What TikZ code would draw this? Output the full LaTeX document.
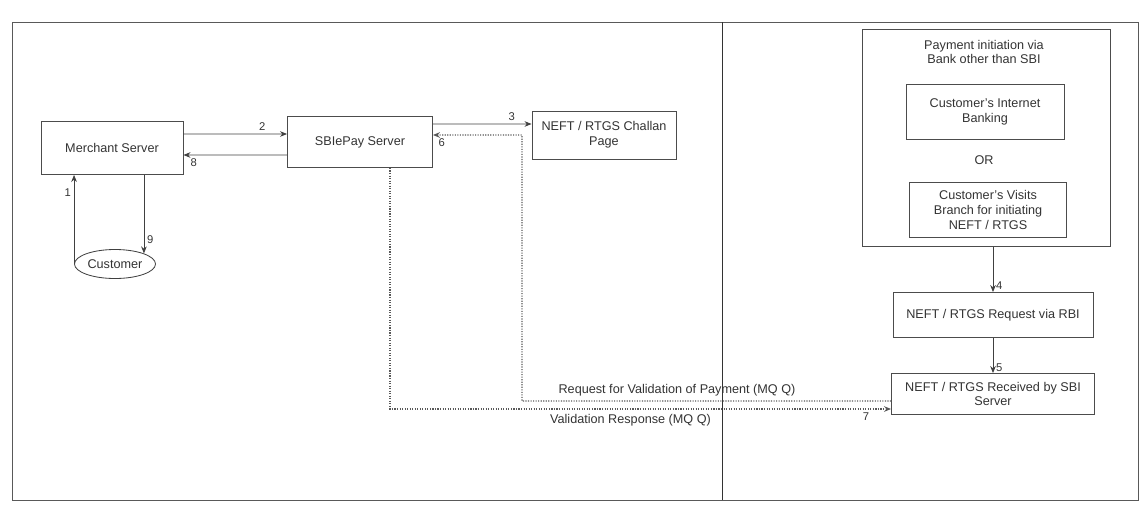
\documentclass[tikz,border=0pt]{standalone}
\usepackage{fontspec}
\setmainfont{Liberation Sans}
\usetikzlibrary{shapes.geometric, arrows.meta}

\begin{document}
\begin{tikzpicture}[x=0.025cm, y=-0.025cm, >={Stealth[length=5pt, width=4pt]}, line width=0.6pt,
    every node/.style={font=\fontsize{9}{10.5}\selectfont, text=black!80},
    box/.style={draw=black!70, align=center, inner sep=2pt},
    flow/.style={->, draw=black!75},
    mq/.style={->, draw=black!65, densely dotted, line width=0.8pt},
    num/.style={font=\fontsize{8}{9}\selectfont, inner sep=2pt}]

        \useasboundingbox (0,0) rectangle (1144,515);

        % Outer frame and divider
        \draw[black!65] (12,22) rectangle (1138,500);
        \draw[black!80] (722,22) -- (722,500);

        % Merchant Server
        \node (merchant) at (112,148) [box, minimum width=3.55cm, minimum height=1.325cm] {Merchant Server};

        % SBIePay Server
        \node (sbiepay) at (360,142) [box, minimum width=3.625cm, minimum height=1.275cm] {SBIePay Server};

        % NEFT / RTGS Challan Page
        \node (challan) at (604,135) [box, minimum width=3.6cm, minimum height=1.2cm] {NEFT / RTGS Challan\\Page};

        % Customer
        \node (customer) at (115,264) [draw=black!75, ellipse, inner sep=0pt, minimum width=2.025cm, minimum height=0.725cm] {Customer};

        % Payment initiation via other bank
        \node (group) at (986,138) [box, minimum width=6.2cm, minimum height=5.425cm] {};
        \node (title) at (984,52) [align=center] {Payment initiation via\\Bank other than SBI};
        \node (internet) at (985,112) [box, minimum width=3.95cm, minimum height=1.375cm] {Customer's Internet\\Banking};
        \node (orlabel) at (984,160) {OR};
        \node (visits) at (988,210) [box, minimum width=3.925cm, minimum height=1.375cm] {Customer's Visits\\Branch for initiating\\NEFT / RTGS};

        % NEFT / RTGS Request via RBI
        \node (rbi) at (993,315) [box, minimum width=5.0cm, minimum height=1.125cm] {NEFT / RTGS Request via RBI};

        % NEFT / RTGS Received by SBI Server
        \node (received) at (993,394) [box, minimum width=5.075cm, minimum height=1.025cm] {NEFT / RTGS Received by SBI\\Server};

        \coordinate (turn) at (522,135);

        % ========================================================
        % Connectors with step numbers
        % ========================================================

        % Customer -> Merchant (1), Merchant -> Customer (9)
        \draw[flow] (customer.west) -- node[pos=0.8, left, num] {1} (customer.west |- merchant.south);
        \draw[flow] (merchant.south -| customer.north east) -- node[pos=0.83, right, num] {9} (customer.north east);

        % Merchant <-> SBIePay (2, 8)
        \draw[flow] ([yshift=0.35cm]merchant.east) -- node[pos=0.76, above, num] {2} ([yshift=0.2cm]sbiepay.west);
        \draw[flow] ([yshift=-0.325cm]sbiepay.west) -- node[pos=0.9, below, num] {8} ([yshift=-0.175cm]merchant.east);

        % SBIePay -> Challan (3)
        \draw[flow] ([yshift=0.45cm]sbiepay.east) -- node[pos=0.8, above, num] {3} ([yshift=0.275cm]challan.west);

        % Right column (4, 5)
        \draw[flow] (group.south -| rbi.north) -- node[pos=0.85, right, num] {4} (rbi.north);
        \draw[flow] (rbi.south) -- node[pos=0.85, right, num] {5} (received.north);

        % MQ connectors (6, 7)
        \draw[mq] ([yshift=-0.175cm]received.west) -| node[pos=0.29, above] {Request for Validation of Payment (MQ Q)} (turn)
            -- node[pos=0.9, below, num] {6} ([yshift=0.175cm]sbiepay.east);
        \draw[mq] ([xshift=0.75cm]sbiepay.south) |- node[pos=0.74, below] {Validation Response (MQ Q)}
            node[pos=0.975, below, num] {7} ([yshift=-0.375cm]received.west);

    \end{tikzpicture}
\end{document}
